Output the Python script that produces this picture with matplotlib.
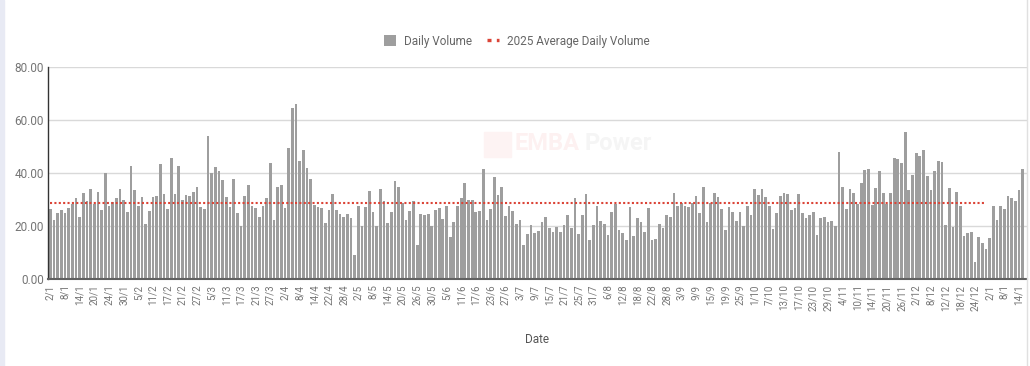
import matplotlib
matplotlib.use('Agg')
import matplotlib.pyplot as plt
import numpy as np
from matplotlib.patches import Patch, Rectangle
from matplotlib.lines import Line2D

plt.rcParams['font.family'] = ['Roboto', 'DejaVu Sans']

# Daily volume per trading day, 2/1/2025 .. mid-Jan 2026
daily_volume = [
    26.5, 22.4, 24.9, 25.9, 24.9, 26.7, 28.2, 30.6, 23.3, 32.4,
    29.6, 33.8, 28.2, 33.0, 25.9, 39.9, 27.5, 29.1, 30.6, 33.8,
    30.0, 25.2, 42.7, 33.5, 27.6, 30.9, 20.9, 25.7, 30.9, 31.3,
    43.4, 32.0, 26.5, 45.8, 32.0, 42.7, 29.7, 31.6, 31.3, 32.8,
    34.9, 27.1, 26.5, 53.8, 39.9, 42.4, 40.8, 37.5, 30.8, 27.2,
    37.7, 24.9, 19.9, 31.3, 35.6, 27.5, 26.8, 23.4, 27.7, 30.6,
    43.8, 22.4, 34.9, 35.6, 26.7, 49.4, 64.7, 66.1, 44.6, 48.6,
    42.0, 37.7, 27.8, 27.2, 26.7, 21.1, 26.1, 32.0, 25.9, 24.7,
    23.3, 24.7, 23.0, 9.1, 27.5, 20.1, 27.1, 33.2, 25.1, 20.1,
    33.8, 29.4, 21.0, 25.3, 37.1, 34.6, 28.5, 22.2, 25.7, 29.6,
    12.9, 24.6, 24.1, 24.6, 19.9, 25.9, 26.8, 22.5, 27.5, 15.8,
    21.4, 27.5, 30.4, 36.3, 29.7, 29.7, 25.3, 25.7, 41.6, 22.2,
    26.5, 38.5, 31.8, 34.9, 23.9, 27.5, 25.7, 20.8, 22.2, 12.7,
    17.1, 20.4, 17.5, 18.2, 21.4, 23.4, 19.4, 17.8, 19.7, 17.8,
    20.4, 24.3, 19.4, 30.6, 17.1, 24.3, 32.0, 14.7, 20.4, 27.5,
    21.8, 20.8, 16.7, 25.3, 28.2, 18.6, 17.5, 14.7, 27.1, 16.4,
    22.9, 21.6, 17.6, 26.7, 14.6, 15.1, 20.8, 19.1, 24.2, 23.3,
    32.3, 27.7, 28.6, 27.5, 27.1, 28.5, 31.3, 24.9, 34.6, 21.6,
    28.6, 32.4, 31.0, 26.5, 18.6, 27.1, 25.3, 21.8, 25.3, 20.0,
    27.7, 24.3, 33.9, 31.6, 33.9, 31.0, 27.5, 19.0, 24.9, 31.4,
    32.4, 32.0, 26.1, 26.7, 32.2, 24.9, 22.9, 24.1, 25.3, 16.7,
    22.9, 23.4, 21.6, 22.0, 20.0, 48.1, 34.6, 26.5, 33.8, 32.4,
    28.2, 36.3, 41.0, 41.6, 27.8, 34.2, 40.9, 32.4, 28.2, 32.4,
    45.6, 45.2, 43.8, 55.6, 33.5, 39.1, 47.5, 46.3, 48.5, 38.7,
    33.5, 40.9, 44.6, 44.2, 20.4, 34.2, 19.7, 32.8, 27.5, 16.2,
    17.5, 17.8, 6.5, 15.8, 13.7, 11.5, 15.4, 27.5, 22.2, 27.5,
    26.5, 31.4, 30.6, 29.6, 33.5, 41.4,
]

# every 4th trading day gets a label
tick_labels = [
    '2/1', '8/1', '14/1', '20/1', '24/1', '30/1', '5/2', '11/2', '17/2', '21/2',
    '27/2', '5/3', '11/3', '17/3', '21/3', '27/3', '2/4', '8/4', '14/4', '22/4',
    '28/4', '2/5', '8/5', '14/5', '20/5', '26/5', '30/5', '5/6', '11/6', '17/6',
    '23/6', '27/6', '3/7', '9/7', '15/7', '21/7', '25/7', '31/7', '6/8', '12/8',
    '18/8', '22/8', '28/8', '3/9', '9/9', '15/9', '19/9', '25/9', '1/10', '7/10',
    '13/10', '17/10', '23/10', '29/10', '4/11', '10/11', '14/11', '20/11', '26/11', '2/12',
    '8/12', '12/12', '18/12', '24/12', '2/1', '8/1', '14/1',
]
label_step = 4

avg_2025 = 28.7     # 2025 average daily volume
n_days_2025 = 256   # trading days in 2025 (bars before 2/1/2026)

y_ticks = [0, 20, 40, 60, 80]

bar_color = '#9e9e9e'
avg_color = '#db4437'
text_color = '#757575'

W, H = 1030, 366
fig = plt.figure(figsize=(W / 100, H / 100), dpi=100)
ax = fig.add_axes([48 / W, 87 / H, 979 / W, 212 / H])

x = np.arange(len(daily_volume))
ax.bar(x, daily_volume, width=0.74, color=bar_color, zorder=2)
ax.plot([0, n_days_2025 - 1], [avg_2025, avg_2025], color=avg_color,
        linestyle=(0, (1, 1.1)), lw=1.5, zorder=3)

ax.set_xlim(-0.6, len(daily_volume) + 0.2)
ax.set_ylim(0, 80)
ax.set_yticks(y_ticks)
ax.set_yticklabels([f'{v:.2f}' for v in y_ticks])
ax.set_xticks(np.arange(len(tick_labels)) * label_step)
ax.set_xticklabels(tick_labels, rotation=90)
ax.tick_params(axis='both', length=0, colors=text_color)
ax.tick_params(axis='x', labelsize=7, pad=4)
ax.tick_params(axis='y', labelsize=8.5, pad=3)

ax.yaxis.grid(True, color='#d9d9d9', lw=1)
ax.set_axisbelow(True)
for s in ('top', 'right'):
    ax.spines[s].set_visible(False)
ax.spines['left'].set_color('#333333')
ax.spines['left'].set_linewidth(1)
ax.spines['bottom'].set_color('#616161')
ax.spines['bottom'].set_linewidth(1.5)
ax.spines['left'].set_zorder(4)
ax.spines['bottom'].set_zorder(4)

ax.set_xlabel('Date', fontsize=8.5, color='#555555')
ax.xaxis.set_label_coords(0.5, -0.255)

# legend
handles = [Patch(facecolor=bar_color, edgecolor='none'),
           Line2D([0], [0], color=avg_color, linestyle=(0, (1.2, 1.6)), lw=2.4)]
fig.legend(handles, ['Daily Volume', '2025 Average Daily Volume'],
           loc='center', bbox_to_anchor=(517 / W, 1 - 41 / H), ncol=2,
           frameon=False, fontsize=8.5, handlelength=1.0, handleheight=1.0,
           handletextpad=0.7, columnspacing=1.3, labelcolor='#666666')

# faint watermark
fig.patches.append(Rectangle((484 / W, 1 - 157 / H), 27 / W, 25 / H,
                             transform=fig.transFigure, color='#fdf3f3', zorder=1))
fig.text(514 / W, 1 - 144 / H, 'EMBA', fontsize=17, fontweight='bold',
         color='#fdf1f1', va='center', ha='left', zorder=1)
fig.text(584 / W, 1 - 144 / H, 'Power', fontsize=17, fontweight='bold',
         color='#f5f5f5', va='center', ha='left', zorder=1)

# page edges
fig.patches.append(Rectangle((0, 0), 4 / W, 1, transform=fig.transFigure,
                             color='#e8eaf4', zorder=0))
fig.add_artist(Line2D([1027 / W, 1027 / W], [0, 1], color='#e0e0e0', lw=1))

fig.savefig('out.png', dpi=100)
